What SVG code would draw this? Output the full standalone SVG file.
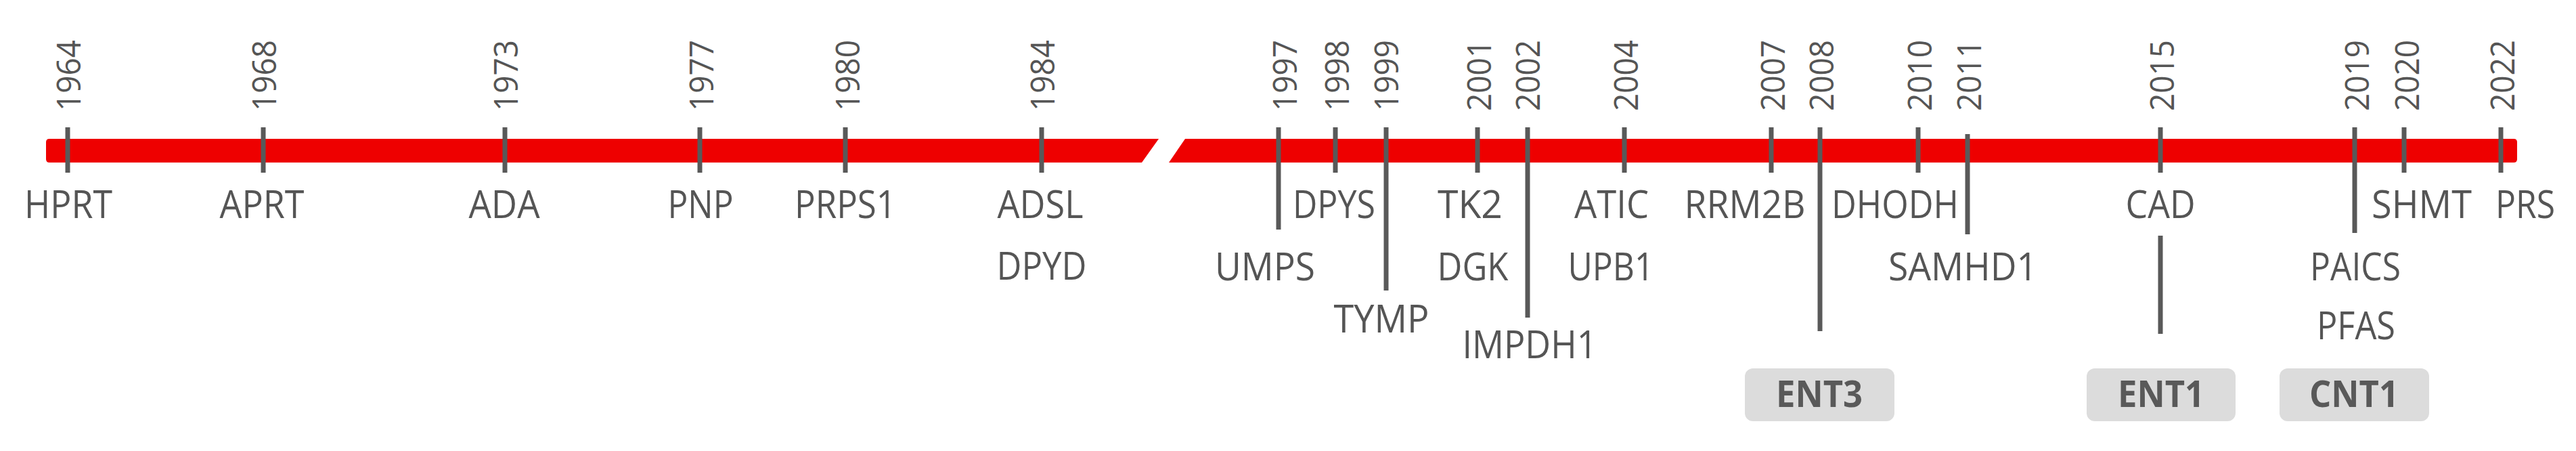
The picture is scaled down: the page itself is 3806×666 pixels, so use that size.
<svg xmlns="http://www.w3.org/2000/svg" width="3806" height="666" viewBox="0 0 3806 666">
<style>
.bar{fill:#ee0000}
.tick{stroke:#595959;stroke-width:7;fill:none}
.yr{font-family:"Open Sans","Liberation Sans",sans-serif;font-size:50px;fill:#555555}
.lb{font-family:"Open Sans","Liberation Sans",sans-serif;font-size:56px;fill:#555555;text-anchor:middle}
.bx{fill:#dcdcdc}
.bt{font-family:"Open Sans","Liberation Sans",sans-serif;font-size:53px;font-weight:bold;fill:#595959;text-anchor:middle}
</style>
<rect width="3806" height="666" fill="#ffffff"/>
<g id="timeline">
<path class="bar" d="M73 205 L1712 205 L1687 240 L73 240 Q68 240 68 235 L68 210 Q68 205 73 205 Z"/>
<path class="bar" d="M1751 205 L3714 205 Q3719 205 3719 210 L3719 235 Q3719 240 3714 240 L1727 240 Z"/>
</g>
<g id="connectors">
<line class="tick" x1="100" y1="188" x2="100" y2="255"/>
<line class="tick" x1="389" y1="188" x2="389" y2="255"/>
<line class="tick" x1="746" y1="188" x2="746" y2="255"/>
<line class="tick" x1="1034" y1="188" x2="1034" y2="255"/>
<line class="tick" x1="1249" y1="188" x2="1249" y2="255"/>
<line class="tick" x1="1539" y1="188" x2="1539" y2="255"/>
<line class="tick" x1="1889" y1="188" x2="1889" y2="339"/>
<line class="tick" x1="1973" y1="188" x2="1973" y2="255"/>
<line class="tick" x1="2048" y1="188" x2="2048" y2="429"/>
<line class="tick" x1="2183" y1="188" x2="2183" y2="255"/>
<line class="tick" x1="2257" y1="188" x2="2257" y2="469"/>
<line class="tick" x1="2400" y1="188" x2="2400" y2="255"/>
<line class="tick" x1="2617" y1="188" x2="2617" y2="255"/>
<line class="tick" x1="2689" y1="188" x2="2689" y2="489"/>
<line class="tick" x1="2834" y1="188" x2="2834" y2="255"/>
<line class="tick" x1="2907" y1="198" x2="2907" y2="346"/>
<line class="tick" x1="3192" y1="188" x2="3192" y2="255"/>
<line class="tick" x1="3192" y1="348" x2="3192" y2="493"/>
<line class="tick" x1="3479" y1="188" x2="3479" y2="344"/>
<line class="tick" x1="3552" y1="188" x2="3552" y2="255"/>
<line class="tick" x1="3695" y1="188" x2="3695" y2="255"/>
</g>
<g id="years">
<text class="yr" transform="translate(119 164) rotate(-90)" textLength="105" lengthAdjust="spacingAndGlyphs">1964</text>
<text class="yr" transform="translate(408 164) rotate(-90)" textLength="105" lengthAdjust="spacingAndGlyphs">1968</text>
<text class="yr" transform="translate(765 164) rotate(-90)" textLength="105" lengthAdjust="spacingAndGlyphs">1973</text>
<text class="yr" transform="translate(1054 164) rotate(-90)" textLength="105" lengthAdjust="spacingAndGlyphs">1977</text>
<text class="yr" transform="translate(1270 164) rotate(-90)" textLength="105" lengthAdjust="spacingAndGlyphs">1980</text>
<text class="yr" transform="translate(1558 164) rotate(-90)" textLength="105" lengthAdjust="spacingAndGlyphs">1984</text>
<text class="yr" transform="translate(1916 164) rotate(-90)" textLength="105" lengthAdjust="spacingAndGlyphs">1997</text>
<text class="yr" transform="translate(1993 164) rotate(-90)" textLength="105" lengthAdjust="spacingAndGlyphs">1998</text>
<text class="yr" transform="translate(2066 164) rotate(-90)" textLength="105" lengthAdjust="spacingAndGlyphs">1999</text>
<text class="yr" transform="translate(2203 164) rotate(-90)" textLength="105" lengthAdjust="spacingAndGlyphs">2001</text>
<text class="yr" transform="translate(2275 164) rotate(-90)" textLength="105" lengthAdjust="spacingAndGlyphs">2002</text>
<text class="yr" transform="translate(2420 164) rotate(-90)" textLength="105" lengthAdjust="spacingAndGlyphs">2004</text>
<text class="yr" transform="translate(2637 164) rotate(-90)" textLength="105" lengthAdjust="spacingAndGlyphs">2007</text>
<text class="yr" transform="translate(2709 164) rotate(-90)" textLength="105" lengthAdjust="spacingAndGlyphs">2008</text>
<text class="yr" transform="translate(2854 164) rotate(-90)" textLength="105" lengthAdjust="spacingAndGlyphs">2010</text>
<text class="yr" transform="translate(2927 164) rotate(-90)" textLength="105" lengthAdjust="spacingAndGlyphs">2011</text>
<text class="yr" transform="translate(3212 164) rotate(-90)" textLength="105" lengthAdjust="spacingAndGlyphs">2015</text>
<text class="yr" transform="translate(3500 164) rotate(-90)" textLength="105" lengthAdjust="spacingAndGlyphs">2019</text>
<text class="yr" transform="translate(3574 164) rotate(-90)" textLength="105" lengthAdjust="spacingAndGlyphs">2020</text>
<text class="yr" transform="translate(3715 164) rotate(-90)" textLength="105" lengthAdjust="spacingAndGlyphs">2022</text>
</g>
<g id="n-HPRT"><text class="lb" x="101" y="322" textLength="130" lengthAdjust="spacingAndGlyphs">HPRT</text></g>
<g id="n-APRT"><text class="lb" x="387" y="322" textLength="125" lengthAdjust="spacingAndGlyphs">APRT</text></g>
<g id="n-ADA"><text class="lb" x="745" y="322" textLength="105" lengthAdjust="spacingAndGlyphs">ADA</text></g>
<g id="n-PNP"><text class="lb" x="1035" y="322" textLength="97" lengthAdjust="spacingAndGlyphs">PNP</text></g>
<g id="n-PRPS1"><text class="lb" x="1249" y="322" textLength="150" lengthAdjust="spacingAndGlyphs">PRPS1</text></g>
<g id="n-ADSL"><text class="lb" x="1537" y="322" textLength="127" lengthAdjust="spacingAndGlyphs">ADSL</text></g>
<g id="n-DPYD"><text class="lb" x="1539" y="413" textLength="133" lengthAdjust="spacingAndGlyphs">DPYD</text></g>
<g id="n-UMPS"><text class="lb" x="1869" y="414" textLength="148" lengthAdjust="spacingAndGlyphs">UMPS</text></g>
<g id="n-DPYS"><text class="lb" x="1971" y="322" textLength="122" lengthAdjust="spacingAndGlyphs">DPYS</text></g>
<g id="n-TYMP"><text class="lb" x="2041" y="491" textLength="141" lengthAdjust="spacingAndGlyphs">TYMP</text></g>
<g id="n-TK2"><text class="lb" x="2172" y="322" textLength="96" lengthAdjust="spacingAndGlyphs">TK2</text></g>
<g id="n-DGK"><text class="lb" x="2176" y="414" textLength="105" lengthAdjust="spacingAndGlyphs">DGK</text></g>
<g id="n-IMPDH1"><text class="lb" x="2260" y="529" textLength="199" lengthAdjust="spacingAndGlyphs">IMPDH1</text></g>
<g id="n-ATIC"><text class="lb" x="2381" y="322" textLength="110" lengthAdjust="spacingAndGlyphs">ATIC</text></g>
<g id="n-UPB1"><text class="lb" x="2380" y="414" textLength="127" lengthAdjust="spacingAndGlyphs">UPB1</text></g>
<g id="n-RRM2B"><text class="lb" x="2578" y="322" textLength="179" lengthAdjust="spacingAndGlyphs">RRM2B</text></g>
<g id="n-DHODH"><text class="lb" x="2800" y="322" textLength="188" lengthAdjust="spacingAndGlyphs">DHODH</text></g>
<g id="n-SAMHD1"><text class="lb" x="2900" y="414" textLength="220" lengthAdjust="spacingAndGlyphs">SAMHD1</text></g>
<g id="n-CAD"><text class="lb" x="3192" y="322" textLength="103" lengthAdjust="spacingAndGlyphs">CAD</text></g>
<g id="n-PAICS"><text class="lb" x="3480" y="414" textLength="134" lengthAdjust="spacingAndGlyphs">PAICS</text></g>
<g id="n-PFAS"><text class="lb" x="3481" y="501" textLength="116" lengthAdjust="spacingAndGlyphs">PFAS</text></g>
<g id="n-SHMT"><text class="lb" x="3578" y="322" textLength="148" lengthAdjust="spacingAndGlyphs">SHMT</text></g>
<g id="n-PRS"><text class="lb" x="3731" y="322" textLength="88" lengthAdjust="spacingAndGlyphs">PRS</text></g>
<g id="n-ENT3"><rect class="bx" x="2578" y="544" width="221" height="78" rx="12"/><text class="bt" x="2688" y="601" textLength="128" lengthAdjust="spacingAndGlyphs">ENT3</text></g>
<g id="n-ENT1"><rect class="bx" x="3083" y="544" width="220" height="78" rx="12"/><text class="bt" x="3193" y="601" textLength="128" lengthAdjust="spacingAndGlyphs">ENT1</text></g>
<g id="n-CNT1"><rect class="bx" x="3368" y="544" width="221" height="78" rx="12"/><text class="bt" x="3478" y="601" textLength="132" lengthAdjust="spacingAndGlyphs">CNT1</text></g>
</svg>
